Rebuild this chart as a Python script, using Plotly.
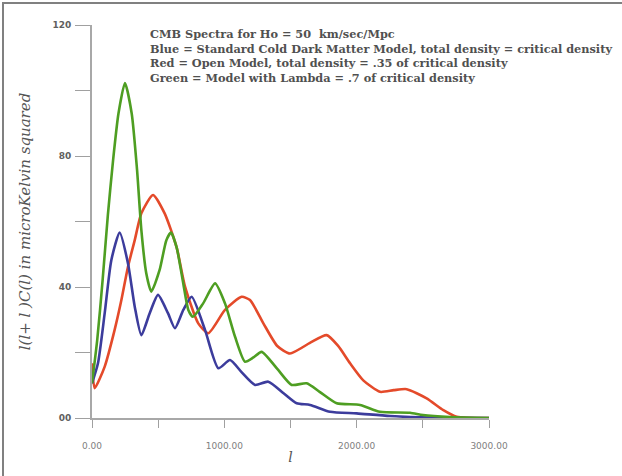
import plotly.graph_objects as go

# ---- data ----
ell_blue = [0, 45, 96, 146, 209, 272, 323, 373, 436, 499, 574, 627, 690, 753, 854, 955,
            1043, 1130, 1232, 1332, 1450, 1547, 1648, 1799, 2000, 2252, 2579, 3000]
cl_blue = [10.6, 16.7, 32, 48.2, 56.6, 47.2, 34, 25.3, 32, 37.6, 32, 27.4, 33, 37.0, 26.9, 15.2,
           17.7, 14, 10.1, 11.1, 7.5, 4.5, 4.0, 1.9, 1.4, 0.6, 0.1, 0]

ell_red = [0, 20, 96, 171, 222, 272, 323, 373, 461, 549, 640, 703, 803, 879, 1005, 1131, 1194,
           1295, 1400, 1496, 1650, 1773, 1860, 1950, 2050, 2176, 2280, 2378, 2529, 2655, 2756, 3000]
cl_red = [16.7, 9.1, 15.7, 26.9, 36, 46.2, 54.3, 62.5, 68.1, 62.5, 52, 40.1, 28.9, 25.9, 33, 37, 36,
          28.9, 22, 19.7, 23, 25.3, 22, 16.7, 11.5, 8.0, 8.5, 8.8, 6.0, 2.4, 0.4, 0]

ell_green = [0, 40, 80, 120, 160, 200, 249, 300, 340, 373, 410, 448, 511, 562, 597, 640, 690, 728,
             763, 840, 930, 1005, 1081, 1156, 1220, 1282, 1400, 1509, 1622, 1720, 1849, 2025, 2176,
             2403, 2501, 2705, 3000]
cl_green = [10.6, 24, 42, 62, 79, 93, 102.3, 93, 76, 57.4, 44.2, 38.6, 45.2, 54.3, 56.6, 52,
            41, 33, 30.9, 35, 41.1, 35, 24.8, 17.2, 18.5, 20.2, 15, 10.1, 10.6, 8, 4.5, 4.0, 1.9,
            1.6, 0.9, 0.3, 0]

x_tickvals = [0, 500, 1000, 1500, 2000, 2500, 3000]
x_ticktext = ["0.00", "", "1000.00", "", "2000.00", "", "3000.00"]
y_tickvals = [0, 20, 40, 60, 80, 100, 120]
y_ticktext = ["00", "", "40", "", "80", "", "120"]

title_lines = [
    "CMB Spectra for Ho = 50  km/sec/Mpc",
    "Blue = Standard Cold Dark Matter Model, total density = critical density",
    "Red = Open Model, total density = .35 of critical density",
    "Green = Model with Lambda = .7 of critical density",
]

series = [
    (ell_red, cl_red, "#e44a2a"),
    (ell_blue, cl_blue, "#3c3c9c"),
    (ell_green, cl_green, "#4e9e22"),
]

fig = go.Figure()
for xs, ys, col in series:
    fig.add_trace(go.Scatter(x=xs, y=ys, mode="lines",
                             line=dict(color=col, width=2.6, shape="spline", smoothing=0.6),
                             showlegend=False, hoverinfo="skip"))

W, H = 622, 476
L, R, T, B = 92, 489, 25, 418

fig.update_layout(
    width=W, height=H,
    margin=dict(l=L, r=W - R, t=T, b=H - B, pad=0, autoexpand=False),
    paper_bgcolor="white", plot_bgcolor="white",
    showlegend=False,
)
fig.update_xaxes(range=[0, 3000], showgrid=False, zeroline=False, automargin=False,
                 showline=True, linecolor="#a8a8a8", linewidth=2,
                 ticks="outside", ticklen=8, tickwidth=1, tickcolor="#a0a0a0",
                 tickvals=x_tickvals, ticktext=x_ticktext,
                 tickfont=dict(family="DejaVu Sans", size=9, color="#808080"),
                 ticklabelstandoff=10,
                 title=dict(text="<i>l</i>", font=dict(family="DejaVu Serif", size=14, color="#555"),
                            standoff=2))
fig.update_yaxes(range=[0, 120], showgrid=False, zeroline=False, automargin=False,
                 showline=True, linecolor="#a8a8a8", linewidth=2,
                 ticks="outside", ticklen=15, tickwidth=1, tickcolor="#a0a0a0",
                 tickvals=y_tickvals, ticktext=y_ticktext,
                 tickfont=dict(family="DejaVu Sans", size=9, color="#606060", weight="bold"),
                 ticklabelstandoff=2,
                 title=dict(text="<i>l(l+ l )C(l) in microKelvin squared</i>",
                            font=dict(family="DejaVu Serif", size=15, color="#555"),
                            standoff=18))

# title text block (one multi-line annotation)
fig.add_annotation(xref="paper", yref="paper",
                   x=(149 - L) / (R - L), y=(B - 56) / (B - T),
                   xanchor="left", yanchor="middle", align="left", showarrow=False,
                   borderpad=0,
                   text="<br>".join(title_lines),
                   font=dict(family="DejaVu Serif", size=11.3, color="#505050", weight="bold"))

# outer frame (left and top edges visible in the reference)
fig.add_shape(type="rect", xref="paper", yref="paper",
              x0=(3 - L) / (R - L), x1=(W + 5 - L) / (R - L),
              y0=(B - (H + 5)) / (B - T), y1=(B - 3) / (B - T),
              line=dict(color="#808080", width=2), layer="below")

fig.write_html("out.html", config={"displayModeBar": False},
               post_script="document.body.style.margin='0px';document.body.style.overflow='hidden';")
